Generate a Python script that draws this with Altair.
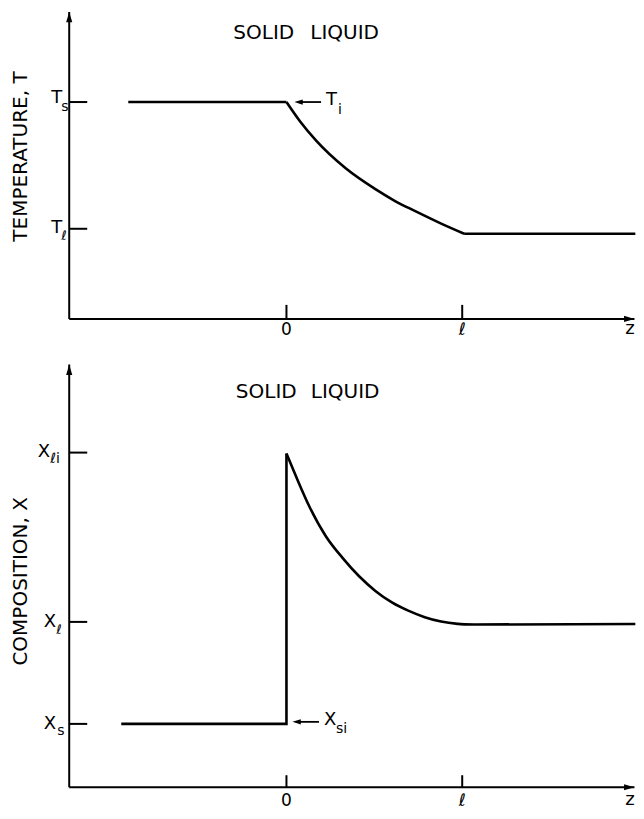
import altair as alt
import pandas as pd

FONT = "DejaVu Sans"

# ---------------- data ----------------
# Temperature profile (z in units of l; T_l = 0, T_s = 1)
z_temp = [-0.90, 0.0, 0.079, 0.169, 0.337, 0.506, 0.618, 0.730, 0.871, 1.011, 1.985]
T_vals = [1.0, 1.0, 0.844, 0.695, 0.477, 0.3125, 0.219, 0.141, 0.047, -0.039, -0.039]

# Composition profile (X_s = 0, X_l = 1, X_li = 2.66)
z_comp = [-0.94, 0.0, 0.0, 0.056, 0.131, 0.225, 0.319, 0.412, 0.506, 0.600, 0.693,
          0.787, 0.880, 0.974, 1.067, 1.985]
X_vals = [0.0, 0.0, 2.65, 2.42, 2.129, 1.838, 1.628, 1.450, 1.304, 1.191, 1.110,
          1.046, 1.003, 0.981, 0.974, 0.98]

# tick positions / labels
T_ticks = [1.0, 0.0]
T_tick_main = ["T", "T"]
T_tick_sub = ["s", "ℓ"]
X_ticks = [2.66, 1.0, 0.0]
X_tick_main = ["X", "X", "X"]
X_tick_sub = ["ℓi", "ℓ", "s"]
z_ticks = [0.0, 1.0]
z_tick_labels = ["0", "ℓ"]
z_axis_label = "z"
regions = ["SOLID", "LIQUID"]

# ---------------- frame geometry ----------------
W = 628
H = 803
Z_DOMAIN = [-1.5843, 1.9888]
T_DOMAIN = [-4.594, 1.742]
X_DOMAIN = [-0.854, 7.019]
PX_Z = W / (Z_DOMAIN[1] - Z_DOMAIN[0])
PX_T = H / (T_DOMAIN[1] - T_DOMAIN[0])
PX_X = H / (X_DOMAIN[1] - X_DOMAIN[0])

Z_AXIS = -1.236
Z_END = 1.98
T_AXIS, T_TOP = -0.711, 1.711
X_AXIS, X_TOP = -0.621, 3.524

xs = alt.Scale(domain=Z_DOMAIN, nice=False, zero=False)
ys_T = alt.Scale(domain=T_DOMAIN, nice=False, zero=False)
ys_X = alt.Scale(domain=X_DOMAIN, nice=False, zero=False)

UP = "M0,0L-0.5,1.7L0.5,1.7Z"
RIGHT = "M0,0L-1.7,-0.5L-1.7,0.5Z"
LEFT = "M0,0L1.6,-0.5L1.6,0.5Z"


def X(f="z"):
    return alt.X(f + ":Q", scale=xs, axis=None)


def rules(df, ys, width=2.0):
    return alt.Chart(df).mark_rule(color="black", strokeWidth=width).encode(
        x=X(), x2="z2:Q", y=alt.Y("v:Q", scale=ys, axis=None), y2="v2:Q")


def heads(df, ys, shape, size):
    return alt.Chart(df).mark_point(shape=shape, filled=True, size=size, color="black",
                                    opacity=1, strokeWidth=0).encode(
        x=X(), y=alt.Y("v:Q", scale=ys, axis=None))


def text(df, ys, size, align="center", dx=0, dy=0, angle=0):
    return alt.Chart(df).mark_text(font=FONT, fontSize=size, align=align, baseline="middle",
                                   dx=dx, dy=dy, angle=angle, color="black").encode(
        x=X(), y=alt.Y("v:Q", scale=ys, axis=None), text="t:N")


def line(zs, vs, ys, interp="linear"):
    df = pd.DataFrame({"z": zs, "v": vs, "i": range(len(zs))})
    return alt.Chart(df).mark_line(color="black", strokeWidth=2.6, strokeJoin="miter",
                                   interpolate=interp).encode(
        x=X(), y=alt.Y("v:Q", scale=ys, axis=None), order="i:Q")


def frame(ys, v_axis, v_top, px_v, ticks, tick_px, ytick_px=18):
    axes = pd.DataFrame({"z": [Z_AXIS, Z_AXIS], "z2": [Z_AXIS, Z_END],
                         "v": [v_axis, v_axis], "v2": [v_top, v_axis]})
    yt = pd.DataFrame({"z": [Z_AXIS] * len(ticks), "z2": [Z_AXIS + ytick_px / PX_Z] * len(ticks),
                       "v": ticks, "v2": ticks})
    xt = pd.DataFrame({"z": z_ticks, "z2": z_ticks, "v": [v_axis] * len(z_ticks),
                       "v2": [v_axis + tick_px / px_v] * len(z_ticks)})
    return [
        rules(axes, ys, 2.0),
        rules(yt, ys, 2.0),
        rules(xt, ys, 2.0),
        heads(pd.DataFrame({"z": [Z_AXIS], "v": [v_top]}), ys, UP, 150),
        heads(pd.DataFrame({"z": [Z_END], "v": [v_axis]}), ys, RIGHT, 150),
    ]


def one(z, v, t):
    return pd.DataFrame({"z": [z], "v": [v], "t": [t]})


# ---------------- top panel: temperature ----------------
top_parts = frame(ys_T, T_AXIS, T_TOP, PX_T, T_ticks, 14)
top_parts.append(line(z_temp[:2], T_vals[:2], ys_T))
top_parts.append(line(z_temp[1:10], T_vals[1:10], ys_T, "monotone"))
top_parts.append(line(z_temp[9:], T_vals[9:], ys_T))
# x tick labels
top_parts.append(text(one(z_ticks[0], T_AXIS, z_tick_labels[0]), ys_T, 17, dy=11))
top_parts.append(text(one(z_ticks[1], T_AXIS, z_tick_labels[1]), ys_T, 17, dy=11))
top_parts.append(text(one(1.955, T_AXIS, z_axis_label), ys_T, 18, dy=10))
# y tick labels
top_parts.append(text(one(Z_AXIS, T_ticks[0], T_tick_main[0]), ys_T, 18, "right", dx=-7, dy=-4))
top_parts.append(text(one(Z_AXIS, T_ticks[0], T_tick_sub[0]), ys_T, 14, "left", dx=-8, dy=5))
top_parts.append(text(one(Z_AXIS, T_ticks[1], T_tick_main[1]), ys_T, 18, "right", dx=-7, dy=-1))
top_parts.append(text(one(Z_AXIS, T_ticks[1], T_tick_sub[1]), ys_T, 13, "left", dx=-8, dy=7))
# axis title
top_parts.append(text(one(-1.512, 0.570, "TEMPERATURE, T"), ys_T, 20, angle=270))
# region labels
top_parts.append(text(pd.DataFrame({"z": [-0.129, 0.331], "v": [1.543] * 2, "t": regions}),
                      ys_T, 20))
# T_i annotation arrow
tip, tail = 0.045, 0.197
top_parts.append(rules(pd.DataFrame({"z": [tip + 0.03], "z2": [tail], "v": [1.0], "v2": [1.0]}),
                       ys_T, 1.8))
top_parts.append(heads(pd.DataFrame({"z": [tip], "v": [1.0]}), ys_T, LEFT, 110))
top_parts.append(text(one(tail, 1.0, "T"), ys_T, 18, "left", dx=5, dy=-2))
top_parts.append(text(one(tail, 1.0, "i"), ys_T, 14, "left", dx=17, dy=8))

top = alt.layer(*top_parts)

# ---------------- bottom panel: composition ----------------
bot_parts = frame(ys_X, X_AXIS, X_TOP, PX_X, X_ticks, 12)
bot_parts.append(line(z_comp[:3], X_vals[:3], ys_X))
bot_parts.append(line(z_comp[2:15], X_vals[2:15], ys_X, "monotone"))
bot_parts.append(line(z_comp[14:], X_vals[14:], ys_X))
bot_parts.append(text(one(z_ticks[0], X_AXIS, z_tick_labels[0]), ys_X, 17, dy=14))
bot_parts.append(text(one(z_ticks[1], X_AXIS, z_tick_labels[1]), ys_X, 17, dy=14))
bot_parts.append(text(one(1.955, X_AXIS, z_axis_label), ys_X, 18, dy=13))
# y tick labels
bot_parts.append(text(one(Z_AXIS, X_ticks[0], X_tick_main[0]), ys_X, 18, "right", dx=-19, dy=-1))
bot_parts.append(text(one(Z_AXIS, X_ticks[0], X_tick_sub[0]), ys_X, 14, "left", dx=-19, dy=6))
bot_parts.append(text(one(Z_AXIS, X_ticks[1], X_tick_main[1]), ys_X, 18, "right", dx=-13, dy=0))
bot_parts.append(text(one(Z_AXIS, X_ticks[1], X_tick_sub[1]), ys_X, 13, "left", dx=-13, dy=8))
bot_parts.append(text(one(Z_AXIS, X_ticks[2], X_tick_main[2]), ys_X, 18, "right", dx=-13, dy=0))
bot_parts.append(text(one(Z_AXIS, X_ticks[2], X_tick_sub[2]), ys_X, 14, "left", dx=-12, dy=7))
bot_parts.append(text(one(-1.512, 1.398, "COMPOSITION, X"), ys_X, 20, angle=270))
bot_parts.append(text(pd.DataFrame({"z": [-0.115, 0.334], "v": [3.252] * 2, "t": regions}),
                      ys_X, 20))
# X_si annotation arrow
tip, tail = 0.034, 0.185
bot_parts.append(rules(pd.DataFrame({"z": [tip + 0.03], "z2": [tail], "v": [0.02], "v2": [0.02]}),
                       ys_X, 1.8))
bot_parts.append(heads(pd.DataFrame({"z": [tip], "v": [0.02]}), ys_X, LEFT, 110))
bot_parts.append(text(one(tail, 0.02, "X"), ys_X, 18, "left", dx=5, dy=-2))
bot_parts.append(text(one(tail, 0.02, "si"), ys_X, 14, "left", dx=17, dy=7))

bottom = alt.layer(*bot_parts)

chart = (
    alt.layer(top, bottom)
    .resolve_scale(y="independent")
    .properties(width=W, height=H, padding=0, background="white",
                autosize=alt.AutoSizeParams(type="none"))
    .configure_view(strokeOpacity=0)
)

chart.save("out.html", embed_options={"renderer": "svg", "actions": False})
